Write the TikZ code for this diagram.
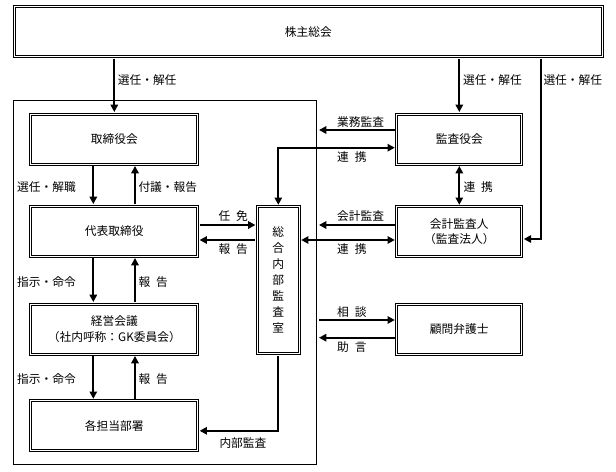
\documentclass[tikz,border=0pt]{standalone}
\usepackage{fontspec}
\setmainfont{Noto Sans CJK JP}
\usetikzlibrary{arrows.meta,calc}

\newcommand{\jfont}{\fontsize{8.8}{11.5}\selectfont}
\newcommand{\jsp}{\hspace{0.5em}}

\tikzset{every picture/.style={line width=0.75pt}}
\tikzset{
	dbox/.style={draw, double, double distance=0.75pt, line width=0.75pt, minimum width=125pt, minimum height=37.5pt, inner sep=0pt, align=center, font=\jfont},
	rbox/.style={dbox, minimum width=93.75pt},
	conn/.style={line width=1.5pt, shorten <=1.1pt, shorten >=1.1pt, >={Triangle[length=5.5pt,width=5.5pt]}},
	lbl/.style={anchor=west, inner sep=0pt, font=\jfont}
}

\begin{document}
\begin{tikzpicture}[x=0.75pt,y=0.75pt,yscale=-1,xscale=1]
	\useasboundingbox (0,0) rectangle (616,471);
	
	%Shape: Rectangle [company frame]
	\draw (13.3,100) rectangle (316.7,464);
	
	% Boxes
	\node[dbox, minimum width=441pt] (kabu) at (308.3,31.7) {株主総会};
	\node[dbox] (tori) at (114.3,139) {取締役会};
	\node[dbox] (daihyo) at (114.3,231) {代表取締役};
	\node[dbox] (keiei) at (114.3,329) {経営会議\\（社内呼称：GK委員会）};
	\node[dbox] (kakutan) at (114.3,425.8) {各担当部署};
	\node[rbox] (kansa) at (459.3,139) {監査役会};
	\node[rbox] (kaikei) at (459.3,231.8) {会計監査人\\（監査法人）};
	\node[rbox] (komon) at (459.3,329) {顧問弁護士};
	\node[dbox, minimum width=31.3pt, minimum height=110.25pt, font=\fontsize{8.8}{12}\selectfont] (sogo) at (278.3,280.3) {総\\合\\内\\部\\監\\査\\室};
	
	\coordinate (rt) at (540.7,0);
	\coordinate (fr) at (317.5,0);
	
	%Straight Lines [from shareholders]
	\draw[conn, ->] (kabu.south -| tori.north) -- (tori.north);
	\draw[conn, ->] (kabu.south -| kansa.north) -- (kansa.north);
	\draw[conn, ->] (kabu.south -| rt) |- ($(kaikei.east)+(0,7.2)$);
	
	%Straight Lines [left column]
	\draw[conn, ->] ($(tori.south)+(-21,0)$) -- ($(daihyo.north)+(-21,0)$);
	\draw[conn, ->] ($(daihyo.north)+(20.7,0)$) -- ($(tori.south)+(20.7,0)$);
	\draw[conn, ->] ($(daihyo.south)+(-21,0)$) -- ($(keiei.north)+(-21,0)$);
	\draw[conn, ->] ($(keiei.north)+(20.7,0)$) -- ($(daihyo.south)+(20.7,0)$);
	\draw[conn, ->] ($(keiei.south)+(-21,0)$) -- ($(kakutan.north)+(-21,0)$);
	\draw[conn, ->] ($(kakutan.north)+(20.7,0)$) -- ($(keiei.south)+(20.7,0)$);
	
	%Straight Lines [audit office]
	\coordinate (nin) at ($(daihyo.east)+(0,-6)$);
	\coordinate (hou) at ($(daihyo.east)+(0,9)$);
	\draw[conn, ->] (nin) -- (nin -| sogo.west);
	\draw[conn, <-] (hou) -- (hou -| sogo.west);
	\draw[conn, ->] (sogo.south) |- ($(kakutan.east)+(0,5)$);
	
	%Straight Lines [right column]
	\coordinate (gyo) at ($(kansa.west)+(0,-9)$);
	\coordinate (ren1) at ($(kansa.west)+(0,8.7)$);
	\coordinate (kai) at ($(kaikei.west)+(0,-6.8)$);
	\coordinate (ren2) at ($(kaikei.west)+(0,8.2)$);
	\coordinate (sou) at ($(komon.west)+(0,-9)$);
	\coordinate (jo) at ($(komon.west)+(0,8.7)$);
	\draw[conn, ->] (gyo) -- (gyo -| fr);
	\draw[conn, <->] (ren1) -| (sogo.north);
	\draw[conn, <->] (kansa.south) -- (kaikei.north);
	\draw[conn, ->] (kai) -- (kai -| fr);
	\draw[conn, <->] (ren2) -- (ren2 -| sogo.east);
	\draw[conn, <-] (sou) -- (sou -| fr);
	\draw[conn, ->] (jo) -- (jo -| fr);
	
	% Text Node
	\node[lbl] (t1) at (117.3,80) {選任・解任};
	\node[lbl] (t2) at (462.7,80) {選任・解任};
	\node[lbl] (t3) at (543,80) {選任・解任};
	\node[lbl] (t4) at (16.7,186.7) {選任・解職};
	\node[lbl] (t5) at (138,186.7) {付議・報告};
	\node[lbl] (t6) at (16.7,281.7) {指示・命令};
	\node[lbl] (t7) at (138,281.7) {報\jsp 告};
	\node[lbl] (t8) at (16.7,379) {指示・命令};
	\node[lbl] (t9) at (138,379) {報\jsp 告};
	\node[lbl] (t10) at (218,216) {任\jsp 免};
	\node[lbl] (t11) at (218,249) {報\jsp 告};
	\node[lbl] (t12) at (219,443.3) {内部監査};
	\node[lbl] (t13) at (336.7,122) {業務監査};
	\node[lbl] (t14) at (336.7,156.7) {連\jsp 携};
	\node[lbl] (t15) at (463,186.7) {連\jsp 携};
	\node[lbl] (t16) at (336.7,216) {会計監査};
	\node[lbl] (t17) at (336.7,249.3) {連\jsp 携};
	\node[lbl] (t18) at (336.7,312) {相\jsp 談};
	\node[lbl] (t19) at (336.7,346.7) {助\jsp 言};
	
\end{tikzpicture}
\end{document}
